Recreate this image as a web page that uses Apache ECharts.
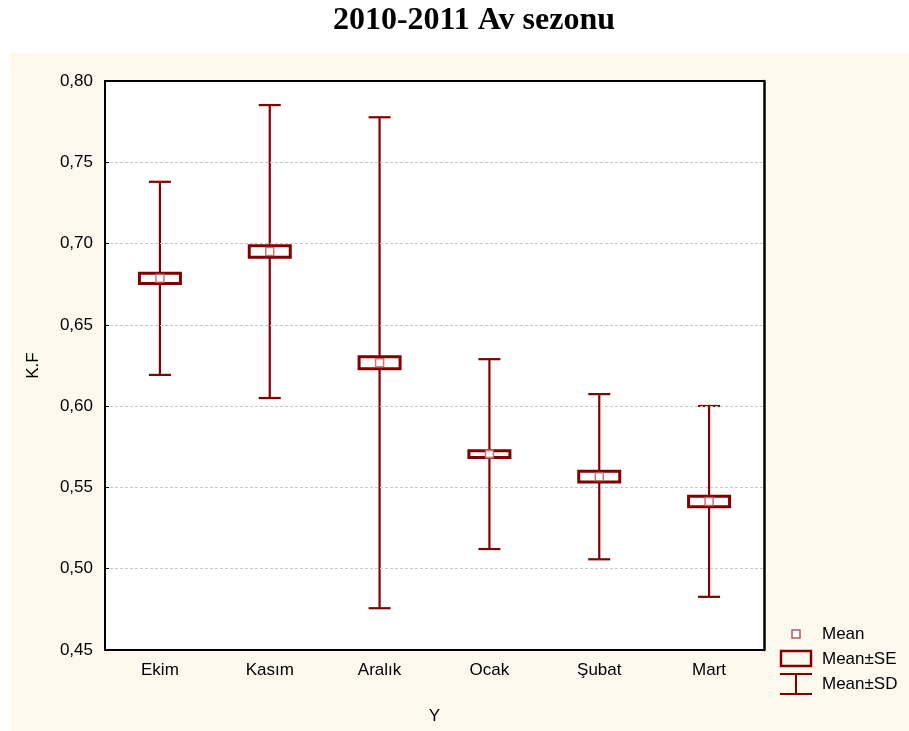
<!DOCTYPE html>
<html>
<head>
<meta charset="utf-8">
<script src="https://cdn.jsdelivr.net/npm/echarts@6/dist/echarts.min.js"></script>
<style>
  html, body { margin: 0; padding: 0; background: #ffffff; }
  #chart { width: 909px; height: 731px; }
</style>
</head>
<body>
<div id="chart"></div>
<script>
// Months of the hunting season
const categories = ['Ekim', 'Kasım', 'Aralık', 'Ocak', 'Şubat', 'Mart'];
// Condition factor (K.F) statistics per month
const means = [0.6786, 0.6951, 0.6267, 0.5705, 0.5566, 0.5414];
const stdErr = [0.0022, 0.0026, 0.0028, 0.0011, 0.0024, 0.0023];
const stdDev = [0.0594, 0.0901, 0.1510, 0.0584, 0.0508, 0.0587];
// Y axis ticks
const yMin = 0.45, yMax = 0.80, yStep = 0.05;
// Legend entries
const legendNames = ['Mean', 'Mean±SE', 'Mean±SD'];

const dark = '#800000';
const meanEdge = '#b45a5a';
const sans = 'Liberation Sans, Arial, sans-serif';

const seData = categories.map((c, i) => [i, means[i] - stdErr[i], means[i] + stdErr[i]]);
const sdData = categories.map((c, i) => [i, means[i] - stdDev[i], means[i] + stdDev[i]]);
const meanData = categories.map((c, i) => [i, means[i]]);

const chart = echarts.init(document.getElementById('chart'), null, { renderer: 'canvas' });

// legend drawn as graphic: icon + label per row
const lx = 780, ly = 634, rowGap = 25;
const legendGraphics = [
  { type: 'rect', z: 10, shape: { x: lx + 12, y: ly - 4, width: 8, height: 8 },
    style: { fill: '#fff', stroke: meanEdge, lineWidth: 1.5 } },
  { type: 'rect', z: 10, shape: { x: lx + 1, y: ly + rowGap - 8, width: 30, height: 15 },
    style: { fill: 'transparent', stroke: dark, lineWidth: 2.5 } },
  { type: 'polyline', z: 10, shape: { points: [[lx, ly + 2 * rowGap - 10], [lx + 32, ly + 2 * rowGap - 10]] },
    style: { stroke: dark, lineWidth: 2, fill: null } },
  { type: 'polyline', z: 10, shape: { points: [[lx + 16, ly + 2 * rowGap - 10], [lx + 16, ly + 2 * rowGap + 10]] },
    style: { stroke: dark, lineWidth: 2, fill: null } },
  { type: 'polyline', z: 10, shape: { points: [[lx, ly + 2 * rowGap + 10], [lx + 32, ly + 2 * rowGap + 10]] },
    style: { stroke: dark, lineWidth: 2, fill: null } }
].concat(legendNames.map((n, i) => ({
  type: 'text', z: 10,
  style: { x: lx + 42, y: ly + i * rowGap, text: n, fill: '#000', font: '17px ' + sans, textVerticalAlign: 'middle' }
})));

chart.setOption({
  backgroundColor: '#ffffff',
  animation: false,
  textStyle: { fontFamily: sans },
  title: {
    text: '2010-2011 Av sezonu',
    left: 469, textAlign: 'center',
    top: 0,
    textStyle: { fontFamily: 'Liberation Serif, Times New Roman, serif', fontWeight: 'bold', fontSize: 32, color: '#000' }
  },
  graphic: [{
    type: 'rect', z: -10, silent: true,
    shape: { x: 10, y: 53, width: 899, height: 678 },
    style: { fill: '#fdf9ef' }
  }].concat(legendGraphics),
  grid: {
    left: 105, top: 81, right: 145, bottom: 81,
    show: true, backgroundColor: '#ffffff', borderColor: '#000', borderWidth: 0
  },
  xAxis: [{
    type: 'category',
    data: categories,
    name: 'Y',
    nameLocation: 'middle',
    nameGap: 58,
    nameTextStyle: { fontSize: 17, color: '#000' },
    axisLine: { lineStyle: { color: '#000', width: 2 } },
    axisTick: { inside: true, alignWithLabel: true, length: 4, lineStyle: { color: '#000' } },
    axisLabel: { fontSize: 17, color: '#000', margin: 12 },
    splitLine: { show: false },
    z: 5
  }, {
    type: 'category',
    data: categories,
    position: 'top',
    axisLine: { lineStyle: { color: '#000', width: 2 } },
    axisTick: { show: false },
    axisLabel: { show: false },
    splitLine: { show: false },
    z: 5
  }],
  yAxis: [{
    type: 'value',
    min: yMin, max: yMax, interval: yStep,
    name: 'K.F',
    nameLocation: 'middle',
    nameGap: 63,
    nameTextStyle: { fontSize: 17, color: '#000' },
    axisLine: { show: true, lineStyle: { color: '#000', width: 2 } },
    axisTick: { show: true, inside: true, length: 4, lineStyle: { color: '#000' } },
    axisLabel: { fontSize: 17, color: '#000', margin: 12,
      formatter: v => v.toFixed(2).replace('.', ',') },
    splitLine: { show: true, lineStyle: { color: '#c8c8c8', type: [3, 2], width: 1 } },
    z: 5
  }, {
    type: 'value',
    min: yMin, max: yMax, interval: yStep,
    position: 'right',
    axisLine: { show: true, lineStyle: { color: '#000', width: 2.5 } },
    axisTick: { show: false },
    axisLabel: { show: false },
    splitLine: { show: false },
    z: 5
  }],
  series: [
    {
      name: 'Mean±SD',
      type: 'custom',
      z: 2,
      data: sdData,
      encode: { x: 0, y: [1, 2] },
      renderItem: function (params, api) {
        const x = api.value(0);
        const lo = api.coord([x, api.value(1)]);
        const hi = api.coord([x, api.value(2)]);
        const half = 11;
        const style = { stroke: dark, lineWidth: 2.2, fill: null };
        return {
          type: 'group',
          children: [
            { type: 'line', shape: { x1: lo[0], y1: lo[1], x2: hi[0], y2: hi[1] }, style: style },
            { type: 'line', shape: { x1: hi[0] - half, y1: hi[1], x2: hi[0] + half, y2: hi[1] }, style: style },
            { type: 'line', shape: { x1: lo[0] - half, y1: lo[1], x2: lo[0] + half, y2: lo[1] }, style: style }
          ]
        };
      }
    },
    {
      name: 'Mean±SE',
      type: 'custom',
      z: 3,
      data: seData,
      encode: { x: 0, y: [1, 2] },
      renderItem: function (params, api) {
        const x = api.value(0);
        const lo = api.coord([x, api.value(1)]);
        const hi = api.coord([x, api.value(2)]);
        const w = 41;
        return {
          type: 'rect',
          shape: { x: hi[0] - w / 2, y: hi[1] - 1.5, width: w, height: lo[1] - hi[1] + 3 },
          style: { fill: '#ffffff', stroke: dark, lineWidth: 3 }
        };
      }
    },
    {
      name: 'Mean',
      type: 'scatter',
      z: 4,
      data: meanData,
      symbol: 'rect',
      symbolSize: 8,
      itemStyle: { color: '#ffffff', borderColor: meanEdge, borderWidth: 1.5 }
    }
  ]
});
</script>
</body>
</html>
